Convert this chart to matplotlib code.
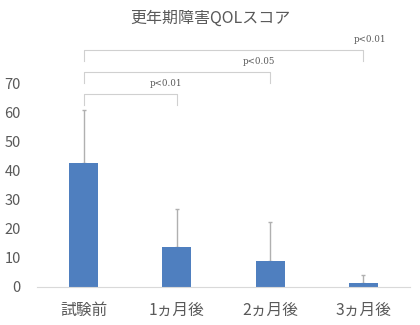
import matplotlib
matplotlib.use("Agg")
import matplotlib.pyplot as plt

plt.rcParams['font.family'] = ['Noto Sans CJK JP', 'DejaVu Sans']

# data
labels = ['試験前', '1ヵ月後', '2ヵ月後', '3ヵ月後']
means = [42.8, 13.9, 9.0, 1.4]
err_up = [18.2, 13.0, 13.4, 2.7]
yticks = [0, 10, 20, 30, 40, 50, 60, 70]

# significance brackets: (from, to, bar y, p text)
sig_from = [0, 0, 0]
sig_to = [1, 2, 3]
sig_y = [66.6, 74.1, 81.7]
sig_text = ['p<0.01', 'p<0.05', 'p<0.01']

grey = '#595959'

fig = plt.figure(figsize=(4.2, 3.25), dpi=100)
ax = fig.add_axes([0.088, 0.117, 0.888, 0.803])

x = range(len(labels))
ax.bar(x, means, width=0.31, color='#4f7fbf', zorder=2)
ax.errorbar(x, means, yerr=[[0] * len(means), err_up], fmt='none',
            ecolor='#b0b0b0', elinewidth=1, capsize=1.5, capthick=1, zorder=1)

# brackets
for a, b, y, t in zip(sig_from, sig_to, sig_y, sig_text):
    ax.plot([a, a, b, b], [y - 3.8, y, y, y - 3.8], color='#d0d0d0', lw=0.8,
            clip_on=False)
    ax.text(b - 0.12 if b < 3 else b + 0.07, y + 3.6, t, family='DejaVu Serif',
            fontsize=6.3, color=grey, ha='center', va='center')

ax.set_xlim(-0.5, 3.5)
ax.set_ylim(0, 90)
ax.set_yticks(yticks)
ax.set_xticks(list(x))
ax.set_xticklabels(labels)
ax.tick_params(axis='both', length=0, colors=grey)
ax.tick_params(axis='y', pad=11.5, labelsize=10.5)
ax.tick_params(axis='x', pad=11, labelsize=11.3)

for s in ['top', 'right', 'left']:
    ax.spines[s].set_visible(False)
ax.spines['bottom'].set_color('#d9d9d9')

fig.text(0.5, 0.945, '更年期障害QOLスコア', ha='center', va='center',
         fontsize=11.5, color=grey)

fig.savefig('out.png', dpi=100)
